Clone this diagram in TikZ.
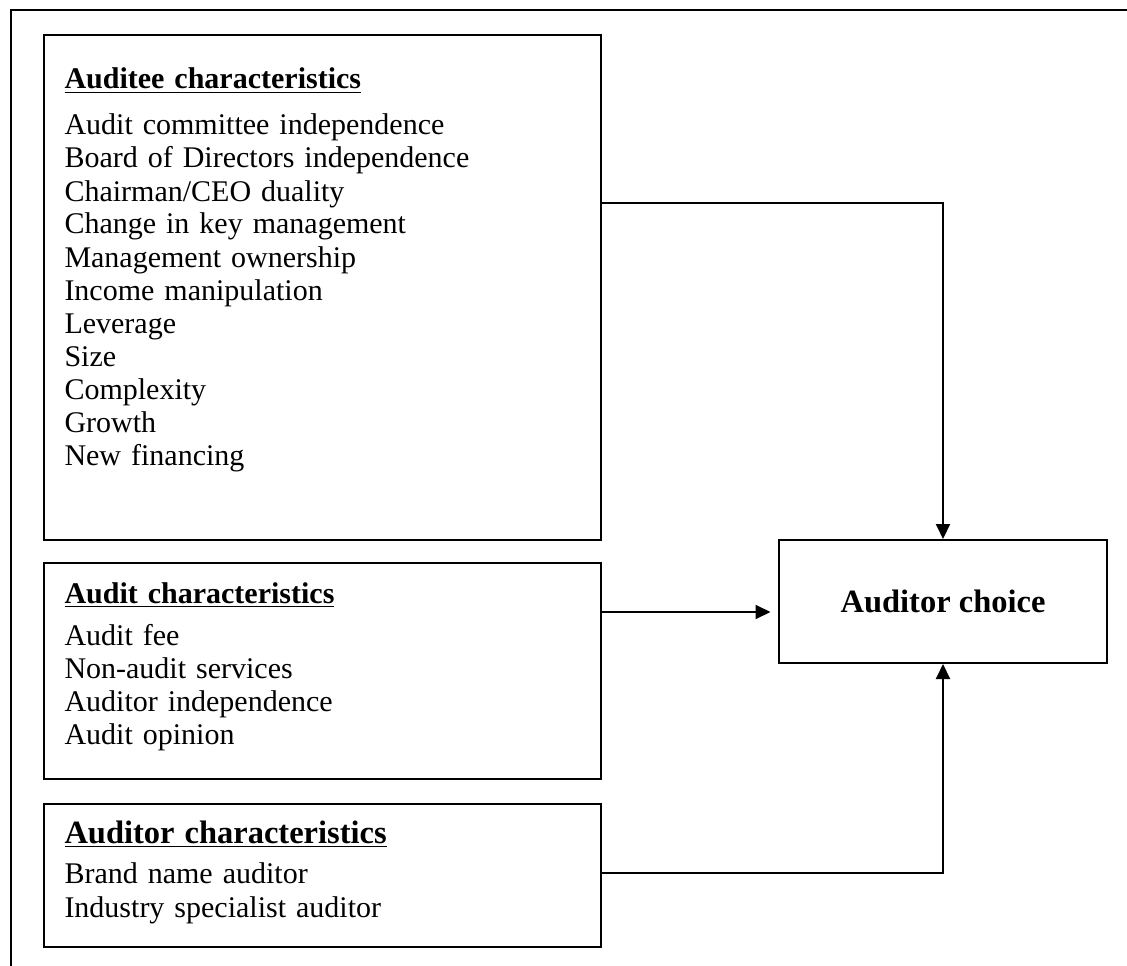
\documentclass[tikz,border=0pt]{standalone}
\usepackage{fontspec}
\setmainfont{Liberation Serif}
\usepackage{tikz}
\usetikzlibrary{positioning,calc,arrows.meta}

\begin{document}
\begin{tikzpicture}[
  x=0.4pt, y=-0.4pt,
  box/.style={draw, line width=0.8pt, rectangle, inner sep=0pt},
  listtext/.style={anchor=base west, inner sep=0pt, align=left, text width=210pt, font=\fontsize{12pt}{13.2pt}\selectfont},
  choice/.style={box, font=\bfseries\fontsize{13pt}{15pt}\selectfont},
  arrow/.style={-{Triangle[length=6pt,width=5.6pt]}, line width=0.8pt}
  ]
  \useasboundingbox (0,0) rectangle (1127,966);

  % ===== OUTER FRAME =====
  \draw[line width=0.8pt] (11,990) -- (11,10) -- (1150,10);

  % ===== BOXES =====
  \node[box, minimum width=222.8pt, minimum height=202pt]  (auditee) at (322.5,287.5) {};
  \node[box, minimum width=222.8pt, minimum height=86.4pt] (audit)   at (322.5,671) {};
  \node[box, minimum width=222.8pt, minimum height=57.2pt] (auditor) at (322.5,875.5) {};
  \node[choice, minimum width=131.2pt, minimum height=49.2pt] (choice) at (943,601.5) {Auditor choice};

  % ===== TEXTS =====
  \node[listtext] (auditeetxt) at (64,89) {\underline{\textbf{Auditee characteristics}}\\[5.2pt]
    Audit committee independence\\
    Board of Directors independence\\
    Chairman/CEO duality\\
    Change in key management\\
    Management ownership\\
    Income manipulation\\
    Leverage\\
    Size\\
    Complexity\\
    Growth\\
    New financing};
  \node[listtext] (audittxt) at (64,603) {\underline{\textbf{Audit characteristics}}\\[3.6pt]
    Audit fee\\
    Non-audit services\\
    Auditor independence\\
    Audit opinion};
  \node[listtext] (auditortxt) at (64,843) {{\fontsize{13pt}{14pt}\selectfont\underline{\textbf{Auditor characteristics}}}\\[2.8pt]
    Brand name auditor\\[0.4pt]
    Industry specialist auditor};

  % ===== ARROWS =====
  \draw[arrow] ([yshift=33.8pt]auditee.east) -| (choice.north);
  \draw[arrow, shorten >=3pt] ([yshift=23.6pt]audit.east) -- ([yshift=23.6pt]audit.east -| choice.west);
  \draw[arrow] ([yshift=1pt]auditor.east) -| (choice.south);
\end{tikzpicture}
\end{document}
